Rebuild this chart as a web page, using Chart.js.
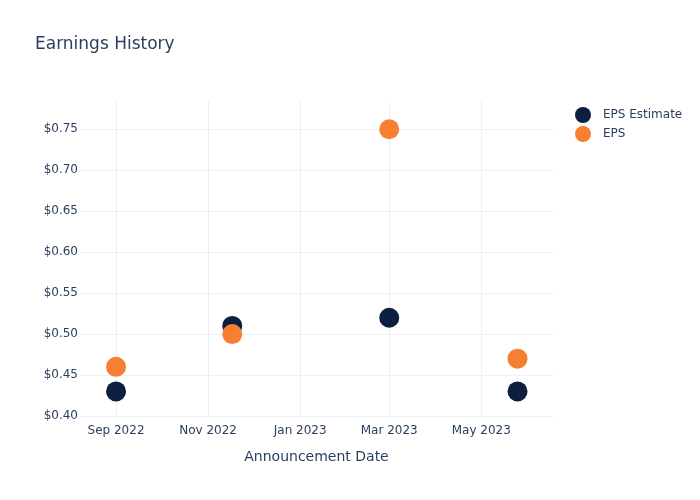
<!DOCTYPE html>
<html>
<head>
<meta charset="utf-8">
<script src="https://cdn.jsdelivr.net/npm/chart.js@4/dist/chart.umd.min.js"></script>
<style>
  html, body { margin: 0; padding: 0; background: #fff; }
  #wrap { width: 700px; height: 500px; }
</style>
</head>
<body>
<div id="wrap"><canvas id="chart" width="700" height="500"></canvas></div>
<script>
// ===== DATA =====
const announceDates = ['2022-09-01', '2022-11-17', '2023-03-01', '2023-05-25'];
const epsEstimate = [0.43, 0.51, 0.52, 0.43];
const epsActual = [0.46, 0.50, 0.75, 0.47];

const xTickDates = ['2022-09-01', '2022-11-01', '2023-01-01', '2023-03-01', '2023-05-01'];
const xTickLabels = ['Sep 2022', 'Nov 2022', 'Jan 2023', 'Mar 2023', 'May 2023'];
const yTicks = [0.40, 0.45, 0.50, 0.55, 0.60, 0.65, 0.70, 0.75];

const TEXT = '#2a3f5f';
const GRID = '#ebf0f8';
const FONT = "'DejaVu Sans', sans-serif";

const toPoints = vals => vals.map((v, i) => ({ x: Date.parse(announceDates[i]), y: v }));

// title + legend drawn on the canvas
const decorations = {
  id: 'decorations',
  afterDraw(chart) {
    const ctx = chart.ctx;
    ctx.save();
    ctx.fillStyle = TEXT;
    ctx.font = `17px ${FONT}`;
    ctx.textBaseline = 'middle';
    ctx.textAlign = 'left';
    ctx.fillText('Earnings History', 35, 45);

    ctx.font = `12px ${FONT}`;
    chart.data.datasets.forEach((ds, i) => {
      const y = 115 + i * 19;
      ctx.beginPath();
      ctx.arc(583, y, 8, 0, Math.PI * 2);
      ctx.fillStyle = ds.backgroundColor;
      ctx.fill();
      ctx.fillStyle = TEXT;
      ctx.fillText(ds.label, 603, y);
    });
    ctx.restore();
  }
};

new Chart(document.getElementById('chart'), {
  type: 'scatter',
  data: {
    datasets: [
      {
        label: 'EPS Estimate',
        data: toPoints(epsEstimate),
        backgroundColor: '#0c1f40',
        borderWidth: 0,
        pointRadius: 10,
        pointHoverRadius: 10,
        order: 1,
      },
      {
        label: 'EPS',
        data: toPoints(epsActual),
        backgroundColor: '#f67f32',
        borderWidth: 0,
        pointRadius: 10,
        pointHoverRadius: 10,
        order: 0,
      },
    ],
  },
  options: {
    responsive: false,
    animation: false,
    layout: { padding: { left: 0, top: 101, right: 147, bottom: 0 } },
    plugins: {
      legend: { display: false },
      title: { display: false },
      tooltip: { enabled: false },
    },
    scales: {
      x: {
        type: 'linear',
        min: Date.parse('2022-08-08T03:00:00Z'),
        max: Date.parse('2023-06-17T12:00:00Z'),
        afterBuildTicks: scale => { scale.ticks = xTickDates.map(d => ({ value: Date.parse(d) })); },
        afterFit: scale => { scale.height = 83; },
        grid: { color: GRID, drawTicks: false },
        border: { display: false },
        ticks: {
          autoSkip: false,
          maxRotation: 0,
          padding: 7,
          color: TEXT,
          font: { family: FONT, size: 12 },
          callback: (v, i) => xTickLabels[i],
        },
        title: {
          display: true,
          text: 'Announcement Date',
          color: TEXT,
          font: { family: FONT, size: 14 },
          padding: { top: 0, bottom: 34 },
        },
      },
      y: {
        min: 0.3988,
        max: 0.7845,
        afterBuildTicks: scale => { scale.ticks = yTicks.map(v => ({ value: v })); },
        afterFit: scale => { scale.width = 80; },
        grid: { color: GRID, drawTicks: false },
        border: { display: false },
        ticks: {
          padding: 2,
          color: TEXT,
          font: { family: FONT, size: 12 },
          callback: v => '$' + v.toFixed(2),
        },
      },
    },
  },
  plugins: [decorations],
});
</script>
</body>
</html>
